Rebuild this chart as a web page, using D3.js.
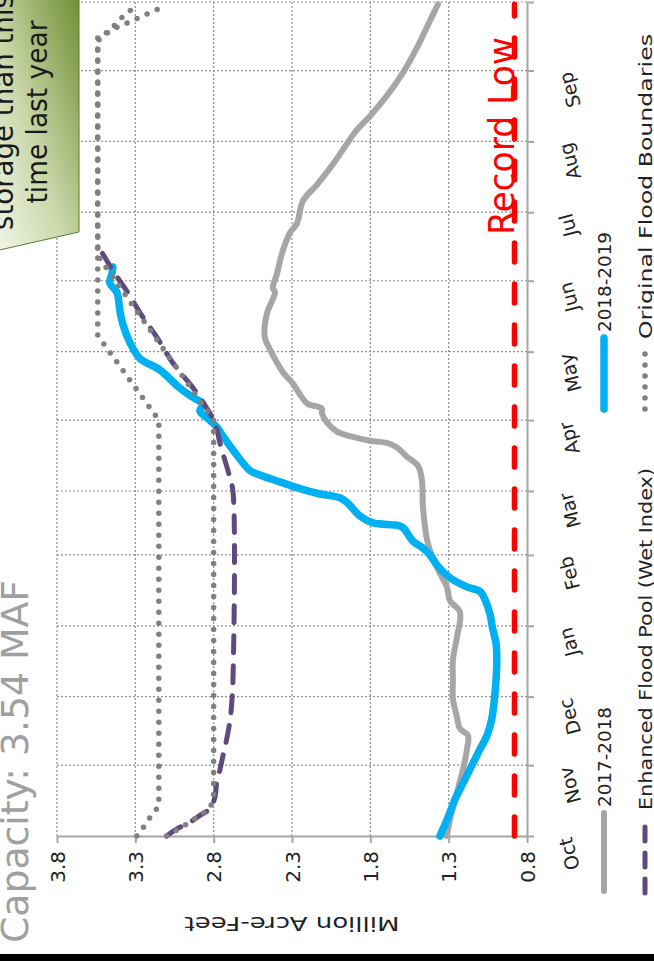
<!DOCTYPE html>
<html><head><meta charset="utf-8">
<script src="https://cdn.jsdelivr.net/npm/d3@7"></script>
<style>
html,body{margin:0;padding:0;background:#fff;overflow:hidden;}
svg{display:block;}
text{font-family:"DejaVu Sans",sans-serif;}
</style></head><body>
<svg id="chart" width="654" height="961"></svg>
<script>
// ---------- DATA ----------
const months = ["Oct","Nov","Dec","Jan","Feb","Mar","Apr","May","Jun","Jul","Aug","Sep"];
const valueTicks = [0.8, 1.3, 1.8, 2.3, 2.8, 3.3, 3.8];
const titleText = "Capacity: 3.54 MAF";
const axisTitle = "Million Acre-Feet";
const recordLowValue = 0.88;
const recordLowLabel = "Record Low";
const calloutLines = ["storage than this", "time last year"];
const seriesNames = ["2017-2018", "2018-2019", "Enhanced Flood Pool (Wet Index)", "Original Flood Boundaries"];

// 2018-2019 storage (MAF)
const wy2019Dates = ["2018-10-01","2018-10-08","2018-10-17","2018-10-24","2018-11-01","2018-11-08","2018-11-14","2018-11-22","2018-11-30","2018-12-08","2018-12-17","2018-12-24","2018-12-31","2019-01-06","2019-01-12","2019-01-16","2019-01-18","2019-01-22","2019-01-27","2019-02-01","2019-02-04","2019-02-07","2019-02-13","2019-02-14","2019-02-15","2019-02-18","2019-02-24","2019-02-26","2019-02-28","2019-03-03","2019-03-05","2019-03-08","2019-03-10","2019-03-15","2019-03-25","2019-03-29","2019-04-02","2019-04-05","2019-04-08","2019-04-11","2019-04-15","2019-04-23","2019-04-28","2019-05-05","2019-05-13","2019-05-19","2019-05-27","2019-05-31","2019-06-04","2019-06-07"];
const wy2019Values = [1.356,1.311,1.26,1.209,1.151,1.10,1.055,1.023,1.008,0.998,0.993,0.997,1.02,1.036,1.065,1.10,1.183,1.292,1.368,1.419,1.464,1.528,1.592,1.63,1.783,1.866,1.949,1.994,2.141,2.294,2.377,2.505,2.569,2.633,2.741,2.78,2.843,2.888,2.869,2.933,3.016,3.144,3.271,3.335,3.38,3.399,3.418,3.463,3.45,3.444];

// 2017-2018 storage (MAF)
const wy2018Dates = ["2017-10-01","2017-10-08","2017-10-20","2017-10-30","2017-11-08","2017-11-14","2017-11-17","2017-11-22","2017-11-30","2017-12-08","2017-12-17","2017-12-27","2018-01-07","2018-01-12","2018-01-18","2018-01-24","2018-02-03","2018-02-08","2018-02-22","2018-03-06","2018-03-12","2018-03-16","2018-03-20","2018-03-22","2018-03-23","2018-03-25","2018-03-27","2018-03-31","2018-04-04","2018-04-06","2018-04-07","2018-04-08","2018-04-11","2018-04-17","2018-04-22","2018-05-02","2018-05-07","2018-05-13","2018-05-19","2018-05-23","2018-05-27","2018-05-29","2018-06-04","2018-06-13","2018-06-22","2018-06-26","2018-07-06","2018-07-13","2018-07-22","2018-07-31","2018-08-06","2018-08-12","2018-08-21","2018-08-31","2018-09-11","2018-09-20","2018-09-30"];
const wy2018Values = [1.311,1.292,1.247,1.209,1.183,1.177,1.228,1.247,1.273,1.273,1.273,1.247,1.228,1.292,1.311,1.356,1.419,1.439,1.464,1.471,1.496,1.566,1.63,1.694,1.803,1.93,2.013,2.077,2.109,2.109,2.141,2.198,2.237,2.294,2.358,2.441,2.473,2.473,2.454,2.428,2.409,2.422,2.396,2.364,2.313,2.269,2.23,2.141,2.039,1.949,1.886,1.803,1.694,1.592,1.502,1.439,1.368];

// Enhanced flood pool (wet index)
const enhancedDates = ["2018-10-01","2018-10-04","2018-10-07","2018-10-10","2018-10-13","2018-10-18","2018-10-24","2018-10-30","2018-11-05","2018-11-12","2018-11-20","2018-11-27","2018-12-08","2019-03-01","2019-03-07","2019-03-22","2019-03-28","2019-04-01","2019-04-09","2019-04-15","2019-04-26","2019-05-07","2019-05-18","2019-05-27","2019-06-04","2019-06-13"];
const enhancedValues = [3.10,3.037,2.952,2.888,2.824,2.792,2.781,2.76,2.741,2.718,2.697,2.686,2.677,2.677,2.697,2.76,2.78,2.80,2.87,2.93,3.06,3.16,3.27,3.35,3.43,3.51];

// Original flood boundaries (two limits)
const floodUpperDates = ["2018-10-01","2018-10-05","2018-10-10","2018-10-14","2019-04-01","2019-05-08","2019-09-16","2019-09-18","2019-09-24","2019-09-28"];
const floodUpperValues = [3.29,3.246,3.197,3.15,3.15,3.54,3.54,3.47,3.39,3.32];
const floodLowerDates = ["2018-10-01","2018-10-07","2018-10-13","2018-10-18","2019-04-01","2019-06-12","2019-09-14","2019-09-19","2019-09-21","2019-09-25","2019-09-29"];
const floodLowerValues = [3.10,2.952,2.824,2.80,2.80,3.54,3.54,3.45,3.38,3.25,3.12];

// ---------- CHART ----------
const parse = d3.timeParse("%Y-%m-%d");
const start = new Date(2018, 9, 1), end = new Date(2019, 9, 1);
const x = d3.scaleLinear().domain([0.8, 3.8]).range([527, 57]);
const y = d3.scaleTime().domain([start, end]).range([836, 2]);
const toSeries = (dates, values, shift) => dates.map((s, i) => ({date: d3.timeYear.offset(parse(s), shift || 0), v: values[i]}));

const svg = d3.select("#chart");
const defs = svg.append("defs");
const grad = defs.append("linearGradient").attr("id", "callout").attr("x1", 1).attr("y1", 0).attr("x2", 0).attr("y2", 1);
grad.append("stop").attr("offset", 0).attr("stop-color", "#6f8e34");
grad.append("stop").attr("offset", 0.55).attr("stop-color", "#c9d6a8");
grad.append("stop").attr("offset", 1).attr("stop-color", "#f3f6ea");

// gridlines
const monthStarts = d3.timeMonth.range(start, d3.timeDay.offset(end, 1));
svg.append("g").selectAll("line").data(valueTicks.slice(1)).join("line")
  .attr("x1", d => x(d)).attr("x2", d => x(d)).attr("y1", y(end)).attr("y2", y(start))
  .attr("stroke", "#8f8f8f").attr("stroke-width", 1.2).attr("stroke-dasharray", "2,2");
svg.append("g").selectAll("line").data(monthStarts.slice(1)).join("line")
  .attr("x1", x(3.8)).attr("x2", x(0.8)).attr("y1", d => y(d)).attr("y2", d => y(d))
  .attr("stroke", "#8f8f8f").attr("stroke-width", 1.2).attr("stroke-dasharray", "2,2");

// value axis (bottom)
const gX = svg.append("g").attr("transform", `translate(0,${y(start)})`)
  .call(d3.axisBottom(x).tickValues(valueTicks).tickFormat(d3.format(".1f")).tickSize(7).tickSizeOuter(0));
gX.select(".domain").attr("stroke", "#a6a6a6").attr("stroke-width", 2);
gX.selectAll(".tick line").attr("stroke", "#a6a6a6").attr("stroke-width", 2);
gX.selectAll(".tick text").attr("transform", "rotate(-90)").attr("x", -15).attr("y", 0).attr("dy", "0.36em")
  .attr("text-anchor", "end").attr("font-size", 20).attr("fill", "#222").style("font-family", "DejaVu Sans");

// date axis (right)
const gY = svg.append("g").attr("transform", `translate(${x(0.8)},0)`)
  .call(d3.axisRight(y).tickValues(monthStarts).tickFormat("").tickSize(7).tickSizeOuter(0));
gY.select(".domain").attr("stroke", "#a6a6a6").attr("stroke-width", 2);
gY.selectAll(".tick line").attr("stroke", "#a6a6a6").attr("stroke-width", 2);

// month labels
svg.append("g").selectAll("text").data(months).join("text")
  .attr("transform", (d, i) => `translate(565,${y(d3.timeMonth.offset(start, i)) + 2}) rotate(-105)`)
  .attr("text-anchor", "end").attr("dy", "0.36em").attr("font-size", 19).attr("fill", "#222").text(d => d);

// axis title (upside down)
svg.append("text").attr("transform", `translate(${x(2.3)},917) rotate(180)`)
  .attr("text-anchor", "middle").attr("font-size", 19).attr("fill", "#222")
  .attr("textLength", 215).attr("lengthAdjust", "spacingAndGlyphs").text(axisTitle);

// chart title
svg.append("text").attr("transform", "translate(28,943) rotate(-90)")
  .attr("font-size", 38).attr("fill", "#a0a0a0").attr("textLength", 363).attr("lengthAdjust", "spacingAndGlyphs").text(titleText);

// series
const curved = d3.line().x(d => x(d.v)).y(d => y(d.date)).curve(d3.curveCatmullRom.alpha(0.5));
const straight = d3.line().x(d => x(d.v)).y(d => y(d.date));

svg.append("path").datum(toSeries(wy2018Dates, wy2018Values, 1)).attr("d", curved)
  .attr("fill", "none").attr("stroke", "#a6a6a6").attr("stroke-width", 6).attr("stroke-linejoin", "round").attr("stroke-linecap", "round");
svg.append("path").datum(toSeries(wy2019Dates, wy2019Values)).attr("d", curved)
  .attr("fill", "none").attr("stroke", "#00b0f0").attr("stroke-width", 7.5).attr("stroke-linejoin", "round").attr("stroke-linecap", "round");
svg.append("path").datum(toSeries(enhancedDates, enhancedValues)).attr("d", curved)
  .attr("fill", "none").attr("stroke", "#5f4a80").attr("stroke-width", 5).attr("stroke-dasharray", "17,13").attr("stroke-linecap", "round");
[[floodUpperDates, floodUpperValues], [floodLowerDates, floodLowerValues]].forEach(([dts, vals]) => {
  svg.append("path").datum(toSeries(dts, vals)).attr("d", straight)
    .attr("fill", "none").attr("stroke", "#808080").attr("stroke-width", 5.5).attr("stroke-dasharray", "0,11").attr("stroke-linecap", "round");
});

// record low
svg.append("path").datum([{date: start, v: recordLowValue}, {date: d3.timeDay.offset(end, -1), v: recordLowValue}])
  .attr("d", straight).attr("fill", "none").attr("stroke", "#ff0000").attr("stroke-width", 5.5)
  .attr("stroke-dasharray", "19,22").attr("stroke-linecap", "round");
svg.append("text").attr("transform", "translate(514,235) rotate(-90)")
  .attr("font-size", 36).attr("fill", "#ff0000").attr("textLength", 198).attr("lengthAdjust", "spacingAndGlyphs").text(recordLowLabel);

// callout
svg.append("path").attr("d", "M-5,-5 L79,-5 L79,232 L-5,251 Z").attr("fill", "url(#callout)").attr("stroke", "#5e7a2c").attr("stroke-width", 1);
svg.append("text").attr("transform", "translate(13,112) rotate(-90)").attr("text-anchor", "middle")
  .attr("font-size", 28).attr("fill", "#1a1a1a").attr("textLength", 236).attr("lengthAdjust", "spacingAndGlyphs").text(calloutLines[0]);
svg.append("text").attr("transform", "translate(47,112) rotate(-90)").attr("text-anchor", "middle")
  .attr("font-size", 28).attr("fill", "#1a1a1a").attr("textLength", 183).attr("lengthAdjust", "spacingAndGlyphs").text(calloutLines[1]);

// legend
const leg = svg.append("g");
const legendItems = [
  {name: seriesNames[0], cx: 604, y0: 813, y1: 891, stroke: "#a6a6a6", w: 6, dash: null, len: 100},
  {name: seriesNames[1], cx: 604, y0: 338, y1: 409, stroke: "#00b0f0", w: 7.5, dash: null, len: 100},
  {name: seriesNames[2], cx: 645, y0: 816, y1: 893, stroke: "#5f4a80", w: 5, dash: "14,12", len: 342},
  {name: seriesNames[3], cx: 645, y0: 345, y1: 409, stroke: "#808080", w: 5.5, dash: "0,11", len: 305}
];
legendItems.forEach(it => {
  leg.append("line").attr("x1", it.cx).attr("x2", it.cx).attr("y1", it.y1).attr("y2", it.y0)
    .attr("stroke", it.stroke).attr("stroke-width", it.w).attr("stroke-linecap", "round").attr("stroke-dasharray", it.dash);
  leg.append("text").attr("transform", `translate(${it.cx},${it.y0 - 6}) rotate(-90)`).attr("dy", "0.36em")
    .attr("font-size", 18.5).attr("fill", "#222").attr("textLength", it.len).attr("lengthAdjust", "spacingAndGlyphs").text(it.name);
});

// bottom black strip
svg.append("rect").attr("x", 0).attr("y", 954).attr("width", 654).attr("height", 7).attr("fill", "#000");
</script></body></html>
